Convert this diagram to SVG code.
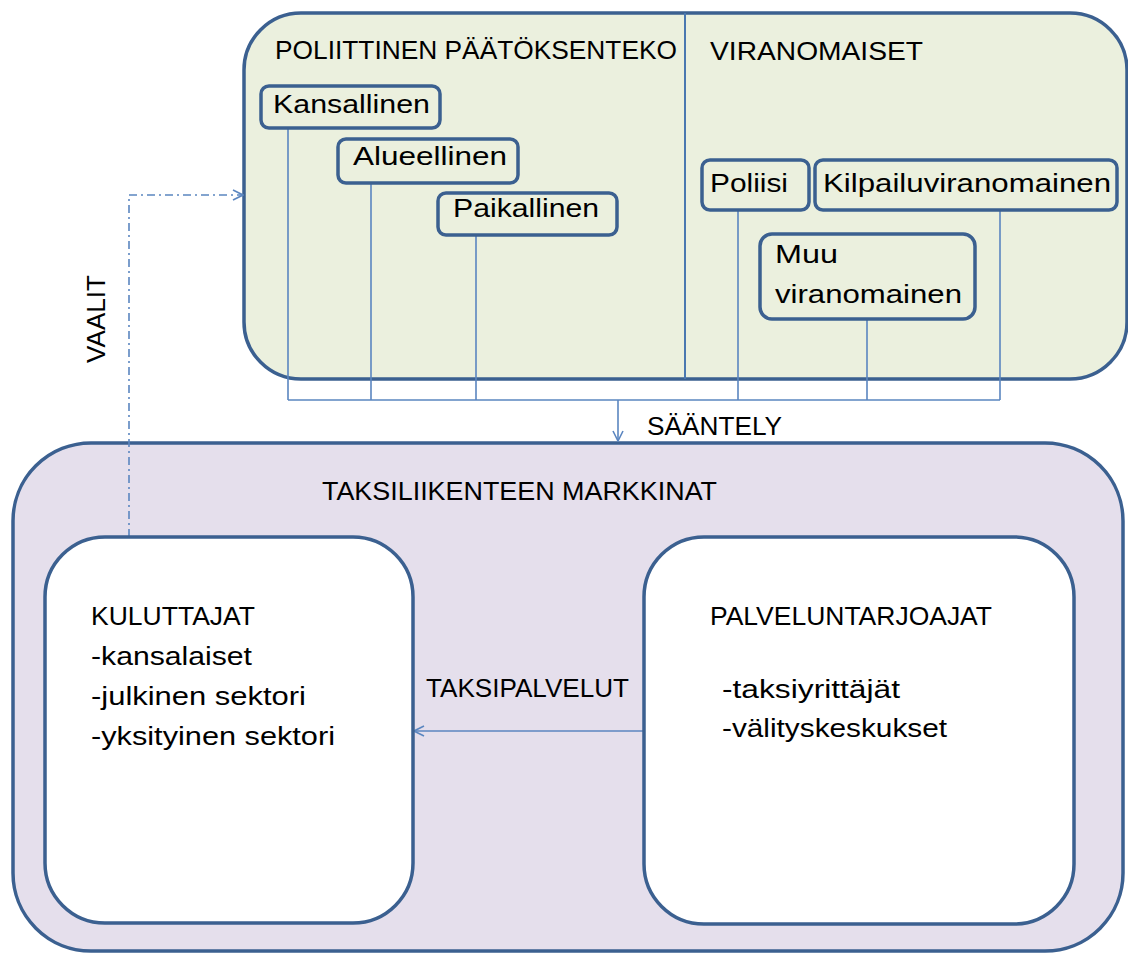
<svg xmlns="http://www.w3.org/2000/svg" width="1128" height="953" viewBox="0 0 1128 953">
<style>
.box{stroke:#3B6090;stroke-width:3.5}
.sm{fill:#EBF0DE;stroke:#3B6090;stroke-width:3.5}
.t{font-family:"Liberation Sans",Arial,sans-serif;font-size:26px;fill:#000}
.c{fill:none;stroke:#5B86C0;stroke-width:1.6}
</style>
<defs>
<marker id="arr" viewBox="0 0 12 12" refX="11" refY="6" markerWidth="12" markerHeight="12" markerUnits="userSpaceOnUse" orient="auto">
<path d="M1,1 L11,6 L1,11" fill="none" stroke="#5B86C0" stroke-width="1.6"/>
</marker>
</defs>
<rect width="1128" height="953" fill="#fff"/>

<g id="markets">
<rect class="box" x="13" y="443" width="1110" height="508" rx="78" fill="#E5DFEC"/>
<text class="t" x="322" y="500" textLength="395" lengthAdjust="spacingAndGlyphs">TAKSILIIKENTEEN MARKKINAT</text>
</g>

<g id="politics">
<rect class="box" x="244" y="13" width="883" height="366" rx="57" fill="#EBF0DE"/>
<line x1="685" y1="13" x2="685" y2="379" stroke="#4A78B0" stroke-width="2"/>
<text class="t" x="275" y="59" textLength="402" lengthAdjust="spacingAndGlyphs">POLIITTINEN PÄÄTÖKSENTEKO</text>
<text class="t" x="710" y="60" textLength="213" lengthAdjust="spacingAndGlyphs">VIRANOMAISET</text>
</g>

<g id="connectors">
<path class="c" d="M288,128 V400 M371,183 V400 M476,235 V400 M738,210 V400 M867,319 V400 M1000,210 V400 M288,400 H1000"/>
<path class="c" d="M618,400 V441" marker-end="url(#arr)"/>
<path class="c" d="M129,537 V195 H243" stroke-dasharray="8 4 2 4" marker-end="url(#arr)"/>
<path class="c" d="M644,731 H414" marker-end="url(#arr)"/>
<text class="t" x="647" y="435" textLength="135" lengthAdjust="spacingAndGlyphs">SÄÄNTELY</text>
<text class="t" x="426" y="697" textLength="203" lengthAdjust="spacingAndGlyphs">TAKSIPALVELUT</text>
<text class="t" transform="translate(105,363) rotate(-90)" x="0" y="0" textLength="88" lengthAdjust="spacingAndGlyphs">VAALIT</text>
</g>

<g id="kansallinen">
<rect class="sm" x="261" y="86" width="179" height="42" rx="8"/>
<text class="t" x="273" y="113" textLength="157" lengthAdjust="spacingAndGlyphs">Kansallinen</text>
</g>
<g id="alueellinen">
<rect class="sm" x="338" y="139" width="180" height="44" rx="8"/>
<text class="t" x="353" y="165" textLength="154" lengthAdjust="spacingAndGlyphs">Alueellinen</text>
</g>
<g id="paikallinen">
<rect class="sm" x="438" y="193" width="179" height="42" rx="8"/>
<text class="t" x="453" y="217" textLength="146" lengthAdjust="spacingAndGlyphs">Paikallinen</text>
</g>
<g id="poliisi">
<rect class="sm" x="702" y="160" width="107" height="50" rx="8"/>
<text class="t" x="710" y="192" textLength="78" lengthAdjust="spacingAndGlyphs">Poliisi</text>
</g>
<g id="kilpailuviranomainen">
<rect class="sm" x="815" y="160" width="302" height="50" rx="8"/>
<text class="t" x="823" y="192" textLength="288" lengthAdjust="spacingAndGlyphs">Kilpailuviranomainen</text>
</g>
<g id="muu">
<rect class="sm" x="760" y="234" width="215" height="85" rx="12"/>
<text class="t" x="775" y="263" textLength="63" lengthAdjust="spacingAndGlyphs">Muu</text>
<text class="t" x="775" y="303" textLength="187" lengthAdjust="spacingAndGlyphs">viranomainen</text>
</g>

<g id="kuluttajat">
<rect class="box" x="45" y="537" width="368" height="386" rx="60" fill="#fff"/>
<text class="t" x="91" y="625" textLength="164" lengthAdjust="spacingAndGlyphs">KULUTTAJAT</text>
<text class="t" x="91" y="665" textLength="161" lengthAdjust="spacingAndGlyphs">-kansalaiset</text>
<text class="t" x="91" y="705" textLength="215" lengthAdjust="spacingAndGlyphs">-julkinen sektori</text>
<text class="t" x="91" y="745" textLength="244" lengthAdjust="spacingAndGlyphs">-yksityinen sektori</text>
</g>

<g id="palveluntarjoajat">
<rect class="box" x="644" y="537" width="430" height="387" rx="60" fill="#fff"/>
<text class="t" x="710" y="625" textLength="282" lengthAdjust="spacingAndGlyphs">PALVELUNTARJOAJAT</text>
<text class="t" x="722" y="698" textLength="178" lengthAdjust="spacingAndGlyphs">-taksiyrittäjät</text>
<text class="t" x="722" y="737" textLength="225" lengthAdjust="spacingAndGlyphs">-välityskeskukset</text>
</g>
</svg>
